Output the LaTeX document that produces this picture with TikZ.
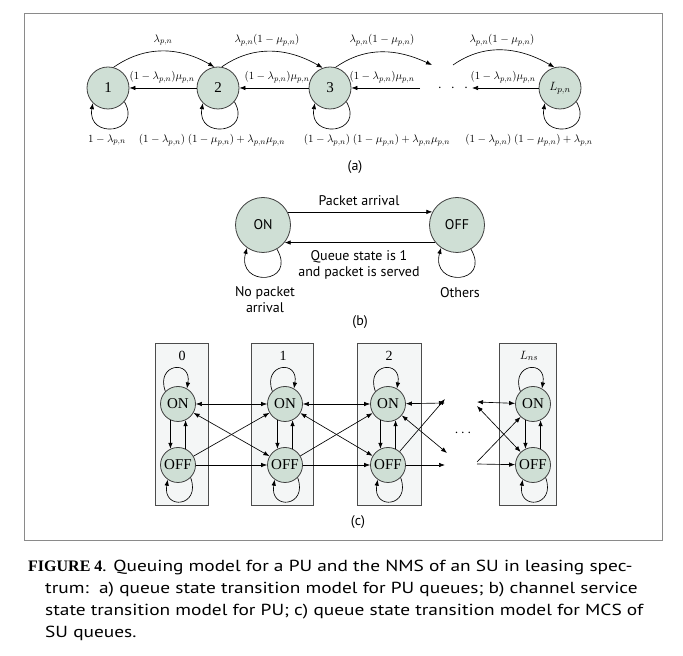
\documentclass[tikz,border=0pt]{standalone}
\usepackage{fontspec}
\setmainfont{Liberation Serif}
\newfontfamily\capfont{PT Sans}
\newfontfamily\capwide[FakeStretch=1.21]{PT Sans}
\newfontfamily\capserif{Liberation Serif}
\usetikzlibrary{arrows.meta,calc}
\definecolor{stfill}{HTML}{CFDFD5}
\definecolor{boxfill}{HTML}{F4F6F6}
\definecolor{framegray}{HTML}{8A8A8A}
\begin{document}
\begin{tikzpicture}[x=1pt,y=1pt,
  st/.style={circle,draw=black!75,fill=stfill,line width=0.8pt,inner sep=0pt},
  arr/.style={-{Latex[length=6pt,width=4.5pt]},line width=0.65pt},
  darr/.style={{Latex[length=6pt,width=4.5pt]}-{Latex[length=6pt,width=4.5pt]},line width=0.65pt},
  lab/.style={inner sep=0pt,font=\fontsize{11}{13}\selectfont},
  sfl/.style={inner sep=0pt,font=\capfont\fontsize{14}{16}\selectfont},
  capl/.style={inner sep=0pt,anchor=base west,font=\capwide\fontsize{16}{18}\selectfont},
  boxst/.style={draw=black!70,fill=boxfill,line width=0.8pt},
]
\useasboundingbox (0,0) rectangle (683,656);
\draw[framegray,line width=0.8pt] (24,116) rectangle (662,643);

% ---------- (a) ----------
\node[st,minimum size=42pt,font=\fontsize{15}{17}\selectfont] (a1) at (108,568) {1};
\node[st,minimum size=42pt,font=\fontsize{15}{17}\selectfont] (a2) at (218,568) {2};
\node[st,minimum size=42pt,font=\fontsize{15}{17}\selectfont] (a3) at (330,568) {3};
\node[st,minimum size=42pt,font=\fontsize{13}{15}\selectfont] (aL) at (560,568) {$L_{p,n}$};
\node[inner sep=0pt,font=\fontsize{14}{16}\selectfont] (adots) at (453,568) {$\cdot\hspace{6pt}\cdot\hspace{6pt}\cdot$};
\coordinate (d1) at (432,591);
\coordinate (d2) at (453,591);
\coordinate (d3) at (420,568);
\coordinate (d4) at (472,568);

\draw[arr] (a1.75) to[out=35,in=150] (a2.100);
\draw[arr] (a2.80) to[out=35,in=150] (a3.110);
\draw[arr] (a3.75) to[out=35,in=155] (d1);
\draw[arr] (d2) to[out=35,in=150] (aL.105);

\draw[arr] (a2) -- (a1);
\draw[arr] (a3) -- (a2);
\draw[arr] (d3) -- (a3);
\draw[arr] (aL) -- (d4);

\draw[arr] (a1.-40) to[out=-60,in=-100,looseness=3] (a1.-135);
\draw[arr] (a2.-40) to[out=-60,in=-100,looseness=3] (a2.-135);
\draw[arr] (a3.-40) to[out=-60,in=-100,looseness=3] (a3.-135);
\draw[arr] (aL.-40) to[out=-60,in=-100,looseness=3] (aL.-135);

\node[lab] (t1) at (163,616) {$\lambda_{p,n}$};
\node[lab] (t2) at (267,616) {$\lambda_{p,n}(1-\mu_{p,n})$};
\node[lab] (t3) at (382,616) {$\lambda_{p,n}(1-\mu_{p,n})$};
\node[lab] (t4) at (502,616) {$\lambda_{p,n}(1-\mu_{p,n})$};
\node[lab] (b1) at (162,579) {$(1-\lambda_{p,n})\mu_{p,n}$};
\node[lab] (b2) at (277,579) {$(1-\lambda_{p,n})\mu_{p,n}$};
\node[lab] (b3) at (382,579) {$(1-\lambda_{p,n})\mu_{p,n}$};
\node[lab] (b4) at (503,579) {$(1-\lambda_{p,n})\mu_{p,n}$};
\node[lab] (l1) at (107,516) {$1-\lambda_{p,n}$};
\node[lab] (l2) at (212,516) {$(1-\lambda_{p,n})\ (1-\mu_{p,n})+\lambda_{p,n}\mu_{p,n}$};
\node[lab] (l3) at (377,516) {$(1-\lambda_{p,n})\ (1-\mu_{p,n})+\lambda_{p,n}\mu_{p,n}$};
\node[lab] (l4) at (529,516) {$(1-\lambda_{p,n})\ (1-\mu_{p,n})+\lambda_{p,n}$};
\node[sfl] (capa) at (355,489) {(a)};

% ---------- (b) ----------
\node[st,minimum size=55pt,font=\capfont\fontsize{14}{16}\selectfont] (on) at (263,431) {ON};
\node[st,minimum size=55pt,font=\capfont\fontsize{14}{16}\selectfont] (off) at (457,431) {OFF};
\draw[arr] (on.28) -- (off.152);
\draw[arr] (off.-141) -- (on.-39);
\draw[arr] (on.-60) to[out=-60,in=-105,looseness=3.5] (on.-125);
\draw[arr] (off.-60) to[out=-60,in=-105,looseness=3.5] (off.-125);
\node[sfl] (pa) at (359,455) {Packet arrival};
\node[sfl,align=center] (qs) at (359,391) {Queue state is 1\\and packet is served};
\node[sfl,align=center] (np) at (265,356) {No packet\\arrival};
\node[sfl] (ot) at (460,363) {Others};
\node[sfl] (capb) at (360,334) {(b)};

% ---------- (c) ----------
\draw[boxst] (155,151) rectangle (208,313);
\draw[boxst] (251,151) rectangle (313,313);
\draw[boxst] (357,151) rectangle (421,313);
\draw[boxst] (499,151) rectangle (556,313);
\node[inner sep=0pt,font=\fontsize{14}{16}\selectfont] (k0) at (182,300) {0};
\node[inner sep=0pt,font=\fontsize{14}{16}\selectfont] (k1) at (283,300) {1};
\node[inner sep=0pt,font=\fontsize{14}{16}\selectfont] (k2) at (389,300) {2};
\node[inner sep=0pt,font=\fontsize{13}{15}\selectfont] (kL) at (529,300) {$L_{ns}$};

\foreach \i/\x in {0/178,1/285,2/388,L/533}{
  \node[st,minimum size=35pt,font=\fontsize{15}{17}\selectfont] (on\i) at (\x,252) {ON};
  \node[st,minimum size=35pt,font=\fontsize{15}{17}\selectfont] (off\i) at (\x,191) {OFF};
  \draw[arr] (on\i.-115) -- (off\i.115);
  \draw[arr] (off\i.65) -- (on\i.-65);
  \draw[arr] (on\i.135) to[out=110,in=80,looseness=3.5] (on\i.60);
  \draw[arr] (off\i.-45) to[out=-70,in=-100,looseness=3.5] (off\i.-125);
}
\foreach \i/\j in {0/1,1/2}{
  \draw[darr] (on\i) -- (on\j);
  \draw[darr] (on\i) -- (off\j);
  \draw[arr] (off\i) -- (on\j);
  \draw[arr] (off\i) -- (off\j);
}
\coordinate (c1) at (445,253);
\coordinate (c2) at (447,203);
\coordinate (c3) at (445,257);
\coordinate (c4) at (445,191);
\draw[darr] (on2) -- (c1);
\draw[darr] (on2) -- (c2);
\draw[arr] (off2) -- (c3);
\draw[arr] (off2) -- (c4);
\coordinate (e1) at (477,254);
\coordinate (e2) at (477,250);
\coordinate (e3) at (477,194);
\coordinate (e4) at (477,192);
\draw[darr] (e1) -- (onL);
\draw[darr] (e2) -- (offL);
\draw[arr] (e3) -- (onL);
\draw[arr] (e4) -- (offL);
\node[inner sep=0pt,font=\fontsize{14}{16}\selectfont] (cdots) at (463,223) {$\cdots$};
\node[sfl] (capc) at (358,134) {(c)};

% ---------- caption ----------
\node[capl] (cap1) at (28,84) {{\capserif\bfseries FIGURE 4}. Queuing model for a PU and the NMS of an SU in leasing spec-};
\node[capl] (cap2) at (45,62) {trum:\ \ a) queue state transition model for PU queues; b) channel service};
\node[capl] (cap3) at (45,40) {state transition model for PU; c) queue state transition model for MCS of};
\node[capl] (cap4) at (45,18) {SU queues.};
\end{tikzpicture}
\end{document}
